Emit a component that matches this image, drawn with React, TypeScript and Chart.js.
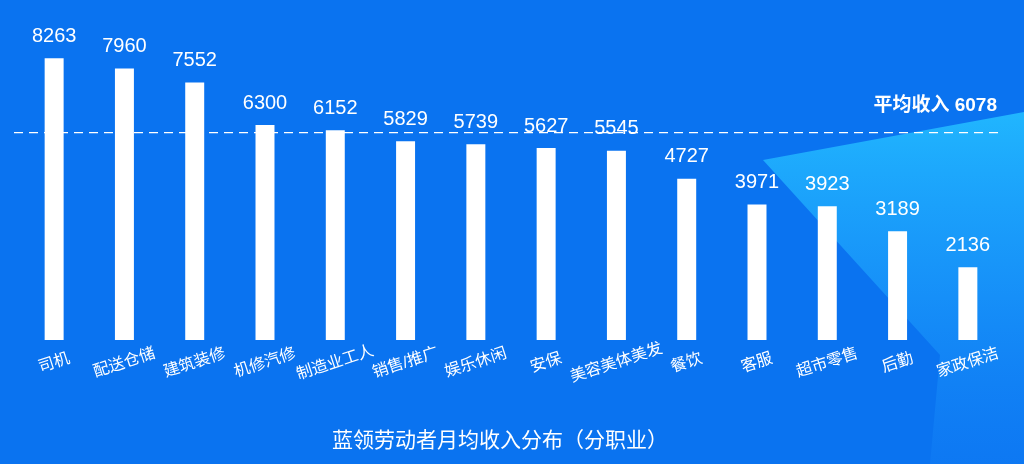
import { useEffect, useRef } from 'react';
import Chart from 'chart.js/auto';

const jobs = ['司机', '配送仓储', '建筑装修', '机修汽修', '制造业工人', '销售/推广', '娱乐休闲', '安保', '美容美体美发', '餐饮', '客服', '超市零售', '后勤', '家政保洁'];
const income = [8263, 7960, 7552, 6300, 6152, 5829, 5739, 5627, 5545, 4727, 3971, 3923, 3189, 2136];
const average = 6078;
const avgLabel = '平均收入 6078';
const title = '蓝领劳动者月均收入分布（分职业）';

const FONT = '"Liberation Sans", "Noto Sans CJK SC", sans-serif';

// background + cyan wedge on the right
const backdrop = {
  id: 'backdrop',
  beforeDraw(chart) {
    const { ctx, width, height } = chart;
    ctx.save();
    ctx.fillStyle = '#0a73f0';
    ctx.fillRect(0, 0, width, height);
    const g = ctx.createLinearGradient(900, 110, 900, 464);
    g.addColorStop(0, 'rgba(34,186,255,0.95)');
    g.addColorStop(0.5, 'rgba(28,158,252,0.7)');
    g.addColorStop(1, 'rgba(20,130,248,0.35)');
    ctx.fillStyle = g;
    ctx.beginPath();
    ctx.moveTo(763, 160);
    ctx.lineTo(1024, 112);
    ctx.lineTo(1024, 464);
    ctx.lineTo(930, 464);
    ctx.lineTo(940, 355);
    ctx.closePath();
    ctx.fill();
    ctx.restore();
  },
};

const overlay = {
  id: 'overlay',
  afterDatasetsDraw(chart) {
    const { ctx, chartArea } = chart;
    const x = chart.scales.x;
    const y = chart.scales.y;
    const meta = chart.getDatasetMeta(0);
    ctx.save();
    ctx.fillStyle = '#fff';
    ctx.strokeStyle = '#fff';

    // average line
    const ay = y.getPixelForValue(average);
    ctx.setLineDash([9, 6]);
    ctx.lineWidth = 1.3;
    ctx.beginPath();
    ctx.moveTo(chartArea.left - 5, ay);
    ctx.lineTo(chartArea.right - 4, ay);
    ctx.stroke();
    ctx.setLineDash([]);

    ctx.font = `bold 19px ${FONT}`;
    ctx.textAlign = 'right';
    ctx.textBaseline = 'middle';
    ctx.fillText(avgLabel, chartArea.right - 6, ay - 27);

    // value labels
    ctx.font = `20px ${FONT}`;
    ctx.textAlign = 'center';
    meta.data.forEach((bar, i) => {
      ctx.fillText(String(income[i]), bar.x, bar.y - 22);
    });

    // rotated category labels
    ctx.font = `16px ${FONT}`;
    jobs.forEach((name, i) => {
      const px = x.getPixelForValue(i);
      ctx.save();
      ctx.translate(px, chartArea.bottom + 23);
      ctx.rotate(-18 * Math.PI / 180);
      ctx.fillText(name, 0, 0);
      ctx.restore();
    });

    // title
    ctx.font = `21px ${FONT}`;
    ctx.fillText(title, 500, 441);
    ctx.restore();
  },
};

const App = () => {
  const chartRef = useRef(null);

  useEffect(() => {
    const ctx = chartRef.current.getContext('2d');
    const chart = new Chart(ctx, {
      type: 'bar',
      data: {
        labels: jobs,
        datasets: [
          {
            data: income,
            backgroundColor: '#ffffff',
            borderWidth: 0,
            categoryPercentage: 1,
            barPercentage: 0.27,
          },
        ],
      },
      options: {
        responsive: false,
        animation: false,
        devicePixelRatio: 1,
        layout: { padding: { left: 19, right: 21, top: 33, bottom: 124 } },
        plugins: {
          legend: { display: false },
          tooltip: { enabled: false },
        },
        scales: {
          x: { display: false },
          y: { display: false, min: 0, max: 9000 },
        },
      },
      plugins: [backdrop, overlay],
    });

    return () => {
      chart.destroy();
    };
  }, []);

  return (
    <div style={{ position: 'fixed', left: 0, top: 0, width: 1024, height: 464 }}>
      <canvas ref={chartRef} width={1024} height={464} style={{ display: 'block' }}></canvas>
    </div>
  );
};

export default App;
